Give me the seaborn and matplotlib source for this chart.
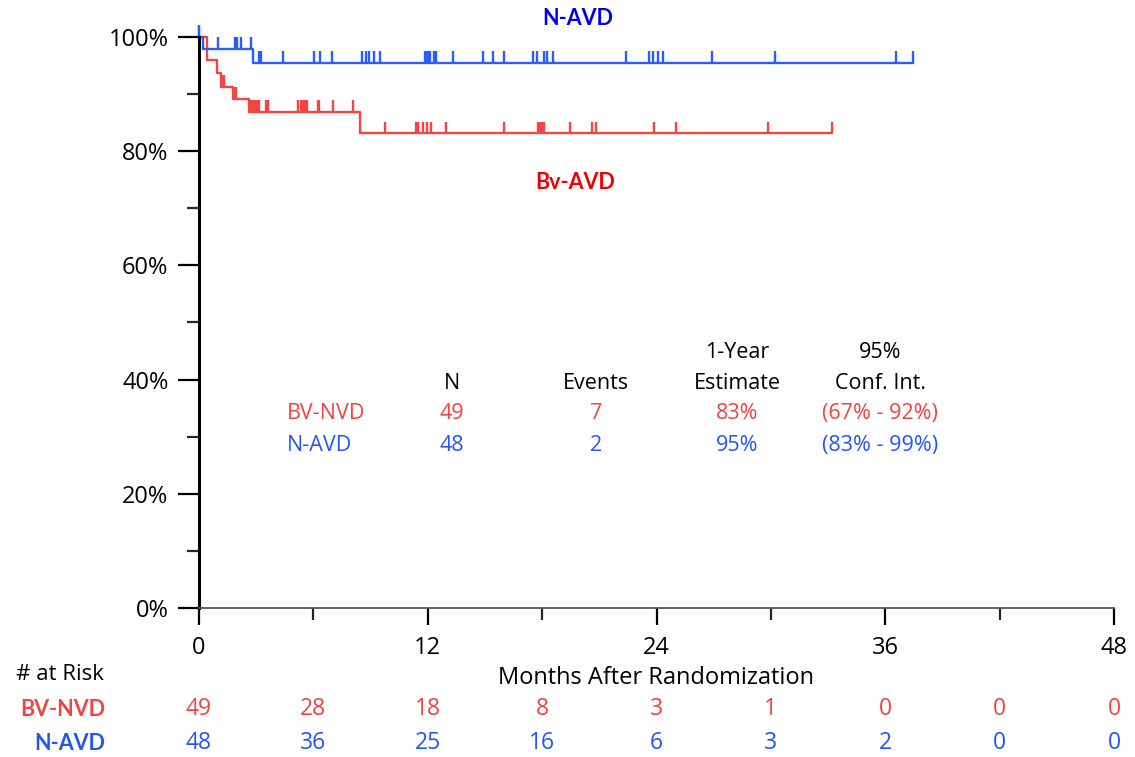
import numpy as np
import pandas as pd
import matplotlib
matplotlib.use("Agg")
import matplotlib.pyplot as plt
import matplotlib.transforms as mtransforms
from matplotlib.ticker import MultipleLocator, FuncFormatter
import seaborn as sns

# ---- Kaplan-Meier steps (months, survival proportion) ----
arms = ["BV-NVD", "N-AVD"]
bv_step_times = [0.0, 0.40, 0.95, 1.15, 1.77, 2.62, 8.45]
bv_step_surv = [1.000, 0.959, 0.937, 0.913, 0.891, 0.869, 0.831]
bv_last_followup = 33.19
bv_censor_times = [0.0, 1.19, 1.33, 1.85, 1.92, 2.68, 2.76, 2.85, 2.95, 3.06, 3.15,
                   3.52, 3.64, 5.21, 5.34, 5.47, 5.56, 5.65, 6.23, 6.31, 7.05, 8.06,
                   9.76, 11.39, 11.51, 11.74, 11.95, 12.16, 12.96, 16.02, 17.80,
                   17.90, 18.00, 18.10, 19.47, 20.60, 20.81, 23.87, 25.03, 29.87, 33.19]

nv_step_times = [0.0, 0.20, 2.85]
nv_step_surv = [1.000, 0.979, 0.955]
nv_last_followup = 37.48
nv_censor_times = [0.0, 0.98, 1.89, 2.01, 2.20, 2.71, 3.16, 3.25, 4.39, 6.03, 6.35,
                   6.96, 8.54, 8.76, 8.93, 9.18, 9.51, 11.86, 11.96, 12.07, 12.12,
                   12.34, 12.43, 13.34, 14.92, 15.41, 16.02, 17.54, 17.72, 18.12,
                   18.24, 18.59, 22.39, 23.61, 23.84, 24.10, 24.36, 26.90, 30.22,
                   36.55, 37.48]

# ---- summary table ----
table_header_top = ["", "", "1-Year", "95%"]
table_header = ["N", "Events", "Estimate", "Conf. Int."]
bv_summary = ["49", "7", "83%", "(67% - 92%)"]
nv_summary = ["48", "2", "95%", "(83% - 99%)"]

# ---- numbers at risk ----
risk_months = [0, 6, 12, 18, 24, 30, 36, 42, 48]
bv_at_risk = [49, 28, 18, 8, 3, 1, 0, 0, 0]
nv_at_risk = [48, 36, 25, 16, 6, 3, 2, 0, 0]

RED_LINE = "#f24545"
BLUE_LINE = "#2a5cff"
RED_TXT = "#ef4444"
BLUE_TXT = "#2456ee"

sns.set_style("ticks")
plt.rcParams["font.family"] = ["Open Sans", "DejaVu Sans"]
BOLD_FAMILY = ["Lato", "DejaVu Sans"]
FS_TICK = 17
FS_LABEL = 17
FS_TABLE = 15.5
FS_RISK = 16.5

fig = plt.figure(figsize=(11.35, 7.57), dpi=100)
ax = fig.add_axes([199 / 1135, 1 - 608 / 757, (1114 - 199) / 1135, (608 - 37) / 757])


def curve_frame(arm, times, surv, last):
    t = list(times) + [last]
    s = list(surv) + [surv[-1]]
    return pd.DataFrame({"month": t, "survival": s, "arm": arm})


curves = pd.concat([
    curve_frame("BV-NVD", bv_step_times, bv_step_surv, bv_last_followup),
    curve_frame("N-AVD", nv_step_times, nv_step_surv, nv_last_followup),
], ignore_index=True)

palette = {"BV-NVD": RED_LINE, "N-AVD": BLUE_LINE}
sns.lineplot(data=curves, x="month", y="survival", hue="arm", palette=palette,
             estimator=None, sort=False, drawstyle="steps-post", linewidth=1.7,
             legend=False, ax=ax, clip_on=False)


def level_at(times, surv, t):
    idx = np.searchsorted(np.asarray(times), np.asarray(t), side="right") - 1
    return np.asarray(surv)[idx]


# censoring marks: short upward strokes from the curve
tick_h = 0.021
for times, surv, cens, col in [
    (bv_step_times, bv_step_surv, bv_censor_times, RED_LINE),
    (nv_step_times, nv_step_surv, nv_censor_times, BLUE_LINE),
]:
    lv = level_at(times, surv, cens)
    ax.vlines(cens, lv, lv + tick_h, colors=col, linewidth=1.7, clip_on=False)

ax.set_xlim(0, 48)
ax.set_ylim(0, 1.0)
ax.xaxis.set_major_locator(MultipleLocator(12))
ax.xaxis.set_minor_locator(MultipleLocator(6))
ax.yaxis.set_major_locator(MultipleLocator(0.2))
ax.yaxis.set_minor_locator(MultipleLocator(0.1))
ax.yaxis.set_major_formatter(FuncFormatter(lambda v, p: f"{v * 100:.0f}%"))
ax.set_xlabel("")
ax.set_ylabel("")
sns.despine(ax=ax)
ax.spines["left"].set_linewidth(2.2)
ax.spines["left"].set_color("black")
ax.spines["bottom"].set_linewidth(1.3)
ax.spines["bottom"].set_color("#555555")
ax.tick_params(axis="y", which="major", length=15, width=1.6, pad=7,
               labelsize=FS_TICK, colors="black")
ax.tick_params(axis="y", which="minor", length=8.5, width=1.6)
ax.tick_params(axis="x", which="major", length=12.5, width=1.6, pad=8,
               labelsize=FS_TICK, colors="black")
ax.tick_params(axis="x", which="minor", length=8.5, width=1.6)

ax.text(19.88, 1.033, "N-AVD", color="#0000ee", fontsize=15.5, fontweight="bold",
        ha="center", va="center", family=BOLD_FAMILY)
ax.text(19.73, 0.746, "Bv-AVD", color="#ee0000", fontsize=15.5, fontweight="bold",
        ha="center", va="center", family=BOLD_FAMILY)

# summary table inside the plot
col_x = [13.27, 20.83, 28.23, 35.73]
for x, s in zip(col_x, table_header_top):
    if s:
        ax.text(x, 0.448, s, ha="center", va="center", fontsize=FS_TABLE, color="black")
for x, s in zip(col_x, table_header):
    ax.text(x, 0.394, s, ha="center", va="center", fontsize=FS_TABLE, color="black")
ax.text(4.62, 0.340, arms[0], ha="left", va="center", fontsize=FS_TABLE, color=RED_TXT)
ax.text(4.62, 0.284, arms[1], ha="left", va="center", fontsize=FS_TABLE, color=BLUE_TXT)
for x, s in zip(col_x, bv_summary):
    ax.text(x, 0.340, s, ha="center", va="center", fontsize=FS_TABLE, color=RED_TXT)
for x, s in zip(col_x, nv_summary):
    ax.text(x, 0.284, s, ha="center", va="center", fontsize=FS_TABLE, color=BLUE_TXT)

fig.text(656 / 1135, 1 - 678 / 757, "Months After Randomization", ha="center",
         va="center", fontsize=FS_LABEL, color="black")

# numbers at risk below the axis
trans = mtransforms.blended_transform_factory(ax.transData, fig.transFigure)
fig.text(16 / 1135, 1 - 675 / 757, "# at Risk", ha="left", va="center",
         fontsize=16, color="black")
fig.text(105 / 1135, 1 - 709 / 757, arms[0], ha="right", va="center",
         fontsize=15.5, color=RED_TXT, fontweight="bold", family=BOLD_FAMILY)
fig.text(105 / 1135, 1 - 743 / 757, arms[1], ha="right", va="center",
         fontsize=15.5, color=BLUE_TXT, fontweight="bold", family=BOLD_FAMILY)
for m, b, n in zip(risk_months, bv_at_risk, nv_at_risk):
    ax.text(m, 1 - 709 / 757, str(b), transform=trans, ha="center", va="center",
            fontsize=FS_RISK, color=RED_TXT)
    ax.text(m, 1 - 743 / 757, str(n), transform=trans, ha="center", va="center",
            fontsize=FS_RISK, color=BLUE_TXT)

fig.savefig("out.png", dpi=100)
